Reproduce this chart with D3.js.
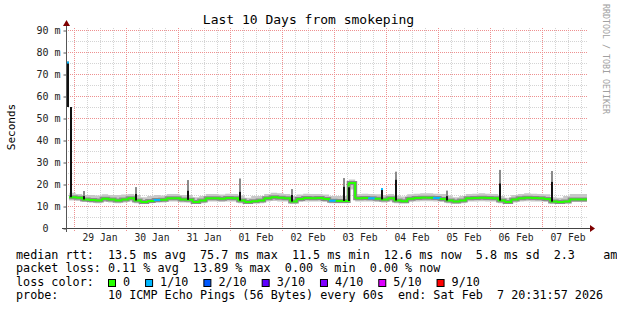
<!DOCTYPE html>
<html>
<head>
<meta charset="utf-8">
<script src="https://cdn.jsdelivr.net/npm/d3@7"></script>
<style>
  body { margin: 0; background: #fff; }
  svg text { font-family: "DejaVu Sans Mono", monospace; white-space: pre; }
</style>
</head>
<body>
<svg id="chart" width="617" height="310"></svg>
<script>

// 3-hourly samples starting 2026-01-28 22:00
var medianRtt = [14, 13.8, 13, 12.7, 12.5, 13.3, 13, 12.5, 13, 13.5,
  12.5, 11.8, 12.3, 12.7, 12.8, 13.5, 13.5, 13, 12.8, 11.8,
  12.5, 13.5, 13.5, 13.3, 13.6, 13.5, 12.5, 11.8, 12.2, 12.5,
  13.5, 14, 13.8, 13.5, 12, 13.2, 13.6, 13.5, 13.6, 13.2,
  12.4, 12.3, 12.3, 20.5, 13.5, 13.6, 13.5, 13.3, 13, 13.5,
  12.5, 12.2, 13.3, 13.6, 13.8, 13.8, 13.6, 13.2, 12.5, 12,
  12.5, 13.5, 13.6, 13.8, 13.6, 13.5, 12.5, 11.8, 13, 13.5,
  13.8, 13.6, 13.5, 13.2, 12, 11.8, 12, 13, 13, 13, 13];

var smokeHi = [16, 15.5, 15, 15, 14.8, 15.3, 15, 15, 15.2, 15.5,
  15, 14, 14.5, 15, 14.8, 15.5, 15.5, 15, 15, 14,
  14.5, 15.5, 15.5, 15.2, 15.6, 15.5, 14.8, 13.8, 14.5, 14.5,
  15.5, 16, 15.8, 15.5, 14.5, 15.2, 15.6, 15.5, 15.5, 15.2,
  14.6, 14.5, 14.5, 22, 15.5, 15.6, 15.5, 15.3, 15, 15.5,
  14.8, 14.3, 15.3, 15.6, 15.8, 15.8, 15.6, 15.5, 14.8, 14,
  14.5, 15.5, 15.6, 15.8, 15.6, 15.5, 14.5, 13.8, 15, 15.5,
  15.8, 15.6, 15.5, 15.3, 14, 13.8, 14.5, 15.5, 15.5, 15.5, 15.5];

var smokeLo = [12.5, 12.3, 11.8, 11.5, 11.3, 11.8, 11.6, 11.3, 11.6, 12,
  11.3, 11, 11.2, 11.5, 11.6, 12, 12, 11.6, 11.5, 11,
  11.3, 12, 12, 11.8, 12, 12, 11.3, 11, 11.2, 11.3,
  12, 12.3, 12, 12, 11, 11.8, 12, 12, 12, 11.8,
  11.3, 11.2, 11.2, 17.5, 12, 12, 12, 11.8, 11.6, 12,
  11.3, 11.2, 11.8, 12, 12.2, 12.2, 12, 11.8, 11.3, 11,
  11.3, 12, 12, 12.2, 12, 12, 11.3, 11, 11.6, 12,
  12.2, 12, 12, 11.8, 11, 11, 11.3, 11.8, 11.8, 11.8, 11.8];

var lossCount = [0, 0, 0, 0, 0, 0, 0, 0, 0, 0,
  0, 0, 0, 1, 0, 0, 0, 0, 0, 0,
  0, 0, 0, 0, 0, 0, 0, 0, 0, 0,
  0, 0, 0, 0, 0, 0, 0, 0, 0, 0,
  1, 0, 0, 0, 0, 0, 1, 0, 0, 0,
  0, 0, 0, 0, 0, 0, 1, 0, 0, 0,
  0, 0, 0, 0, 0, 0, 0, 0, 0, 0,
  0, 0, 0, 0, 0, 0, 0, 0, 0, 0, 0];

// short bursts of high rtt
var spikeTimes = ["2026-01-28 20:59", "2026-01-28 22:22", "2026-01-29 04:20", "2026-01-30 04:20",
  "2026-01-31 04:20", "2026-02-01 04:20", "2026-02-02 04:20", "2026-02-03 04:20",
  "2026-02-03 06:50", "2026-02-03 21:56", "2026-02-04 04:20", "2026-02-05 03:55",
  "2026-02-06 04:20", "2026-02-07 04:20"];
var spikeBase = [55, 14, 13, 12.5, 12.8, 12.5, 12, 12.3, 12.3, 13, 12.5, 12.5, 12.5, 12];
var spikeDark = [75.2, 55, 14.5, 15.5, 17, 16.5, 15, 18.8, 18.5, 17.7, 22, 14.5, 20.3, 21];
var spikeTop = [75.7, 55, 16.8, 18.6, 21.8, 22.5, 17.7, 22.7, 19, 17.7, 25.6, 17, 26.4, 25.9];
var spikeLoss = [1, 0, 0, 0, 0, 0, 0, 0, 0, 1, 0, 0, 0, 0];

var yTicks = [0, 10, 20, 30, 40, 50, 60, 70, 80, 90];
var lossColors = ["#26ff00", "#00b8ff", "#0059ff", "#5e00ff", "#7e00ff", "#dd00ff", "#ff0000"];
var lossLabels = ["0", "1/10", "2/10", "3/10", "4/10", "5/10", "9/10"];
var lossLevels = [0, 1, 2, 3, 4, 5, 9];

var legendLines = [
  "median rtt:  13.5 ms avg  75.7 ms max  11.5 ms min  12.6 ms now  5.8 ms sd  2.3    am/s",
  "packet loss: 0.11 % avg  13.89 % max  0.00 % min  0.00 % now",
  "loss color:",
  "probe:       10 ICMP Echo Pings (56 Bytes) every 60s  end: Sat Feb  7 20:31:57 2026"
];

var parseTime = d3.timeParse("%Y-%m-%d %H:%M:%S");
var parseMin = d3.timeParse("%Y-%m-%d %H:%M");
var startTime = parseTime("2026-01-28 20:31:57");
var endTime = parseTime("2026-02-07 20:31:57");
var firstSample = parseTime("2026-01-28 22:00:00");

var svg = d3.select("#chart");
var plot = { left: 66, right: 586, top: 28, bottom: 228 };

var x = d3.scaleTime().domain([startTime, endTime]).range([plot.left, plot.right]);
var y = d3.scaleLinear().domain([0, 90]).range([228, 30]);

var samples = medianRtt.map(function(d, i) {
  return { t: d3.timeHour.offset(firstSample, 3 * i), m: d, lo: smokeLo[i], hi: smokeHi[i], loss: lossCount[i] };
});
function lossColor(n) { return lossColors[Math.max(0, lossLevels.indexOf(n))]; }
function px(v) { return Math.round(v) + 0.5; }

// grid
var grid = svg.append("g");
d3.range(5, 90, 10).forEach(function(v) {
  grid.append("line").attr("x1", plot.left).attr("x2", plot.right + 2)
    .attr("y1", px(y(v))).attr("y2", px(y(v)))
    .attr("stroke", "#d4d4d4").attr("stroke-dasharray", "1,1");
});
d3.timeHour.every(6).range(startTime, endTime).forEach(function(t) {
  if (t.getHours() === 0) return;
  grid.append("line").attr("x1", px(x(t))).attr("x2", px(x(t)))
    .attr("y1", plot.top).attr("y2", plot.bottom)
    .attr("stroke", "#d4d4d4").attr("stroke-dasharray", "1,1");
});
yTicks.slice(1).forEach(function(v) {
  grid.append("line").attr("x1", plot.left).attr("x2", plot.right + 2)
    .attr("y1", px(y(v))).attr("y2", px(y(v)))
    .attr("stroke", "#ee9090").attr("stroke-dasharray", "1,1");
});
d3.timeDay.range(startTime, endTime).forEach(function(t) {
  grid.append("line").attr("x1", px(x(t))).attr("x2", px(x(t)))
    .attr("y1", plot.top).attr("y2", plot.bottom + 4)
    .attr("stroke", "#ee9090").attr("stroke-dasharray", "1,1");
});

// data
svg.append("clipPath").attr("id", "clip").append("rect")
  .attr("x", plot.left + 1).attr("y", plot.top).attr("width", plot.right - plot.left).attr("height", plot.bottom - plot.top);
var data = svg.append("g").attr("clip-path", "url(#clip)");

data.append("path").datum(samples)
  .attr("fill", "#c8c8c8")
  .attr("d", d3.area().curve(d3.curveStepAfter)
    .x(function(d) { return x(d.t); })
    .y0(function(d) { return y(d.lo); })
    .y1(function(d) { return y(d.hi); }));

data.append("path").datum(samples)
  .attr("fill", "none").attr("stroke", "#8a8a8a").attr("stroke-width", 4)
  .attr("d", d3.line().curve(d3.curveStepAfter)
    .x(function(d) { return x(d.t); })
    .y(function(d) { return y(d.m); }));

samples.slice(0, -1).forEach(function(d, i) {
  var n = samples[i + 1];
  data.append("path")
    .attr("fill", "none").attr("stroke", lossColor(d.loss)).attr("stroke-width", 2)
    .attr("d", "M" + x(d.t) + "," + y(d.m) + "H" + x(n.t) + "V" + y(n.m));
});

spikeTimes.forEach(function(s, i) {
  var sx = Math.round(x(parseMin(s)));
  data.append("rect").attr("x", sx).attr("width", 2)
    .attr("y", y(spikeTop[i])).attr("height", y(spikeDark[i]) - y(spikeTop[i]))
    .attr("fill", "#8a8a8a");
  data.append("rect").attr("x", sx).attr("width", 2)
    .attr("y", y(spikeDark[i])).attr("height", y(spikeBase[i]) - y(spikeDark[i]))
    .attr("fill", "#111");
  if (spikeLoss[i] > 0) {
    data.append("rect").attr("x", sx).attr("width", 2)
      .attr("y", y(spikeDark[i]) - 1).attr("height", 2)
      .attr("fill", lossColor(spikeLoss[i]));
  }
});

// axes
var yAxis = d3.axisLeft(y).tickValues(yTicks).tickSizeInner(3).tickSizeOuter(0).tickPadding(3)
  .tickFormat(function(v) { return v === 0 ? "0\u00a0\u00a0" : v + " m"; });
var gy = svg.append("g").attr("transform", "translate(" + (plot.left + 0.5) + ",0.5)").call(yAxis);
gy.select(".domain").remove();
gy.selectAll("line").attr("stroke", "#555");
gy.selectAll("text").attr("font-family", "DejaVu Sans Mono").attr("font-size", "10px").attr("fill", "#222");

var xAxis = d3.axisBottom(x)
  .tickValues(d3.timeDay.range(startTime, endTime).map(function(t) { return d3.timeHour.offset(t, 12); }))
  .tickSize(0).tickPadding(6)
  .tickFormat(d3.timeFormat("%d %b"));
var gx = svg.append("g").attr("transform", "translate(0," + plot.bottom + ")").call(xAxis);
gx.select(".domain").remove();
gx.selectAll("text").attr("font-family", "DejaVu Sans Mono").attr("font-size", "9.7px").attr("fill", "#222");

svg.append("line").attr("x1", 62).attr("x2", 590).attr("y1", 228.5).attr("y2", 228.5).attr("stroke", "#444");
svg.append("line").attr("x1", 66.5).attr("x2", 66.5).attr("y1", 232).attr("y2", 25).attr("stroke", "#555");
svg.append("path").attr("d", "M590,225L590,232L595,228.5Z").attr("fill", "#7f0000");
svg.append("path").attr("d", "M63,26L70,26L66.5,20Z").attr("fill", "#7f0000");

// titles
svg.append("text").attr("x", 308.5).attr("y", 24).attr("text-anchor", "middle")
  .attr("font-size", "13px").text("Last 10 Days from smokeping");
svg.append("text").attr("transform", "translate(15,127) rotate(-90)").attr("text-anchor", "middle")
  .attr("font-size", "11px").text("Seconds");
svg.append("text").attr("transform", "translate(603,4) rotate(90)")
  .attr("font-size", "8.3px").attr("fill", "#a0a0a0").text("RRDTOOL / TOBI OETIKER");

// legend
var lineY = [258.5, 272, 285.5, 299];
legendLines.forEach(function(s, i) {
  svg.append("text").attr("x", 16).attr("y", lineY[i]).attr("font-size", "11.75px").text(s);
});
var lx = 108.5;
lossLabels.forEach(function(lbl, i) {
  svg.append("rect").attr("x", lx).attr("y", 279.5).attr("width", 7).attr("height", 7)
    .attr("fill", lossColors[i]).attr("stroke", "#000");
  var t = svg.append("text").attr("x", lx + 14.5).attr("y", lineY[2]).attr("font-size", "11.75px").text(lbl);
  lx = lx + 14.5 + t.node().getComputedTextLength() + 15.5;
});

</script>
</body>
</html>
